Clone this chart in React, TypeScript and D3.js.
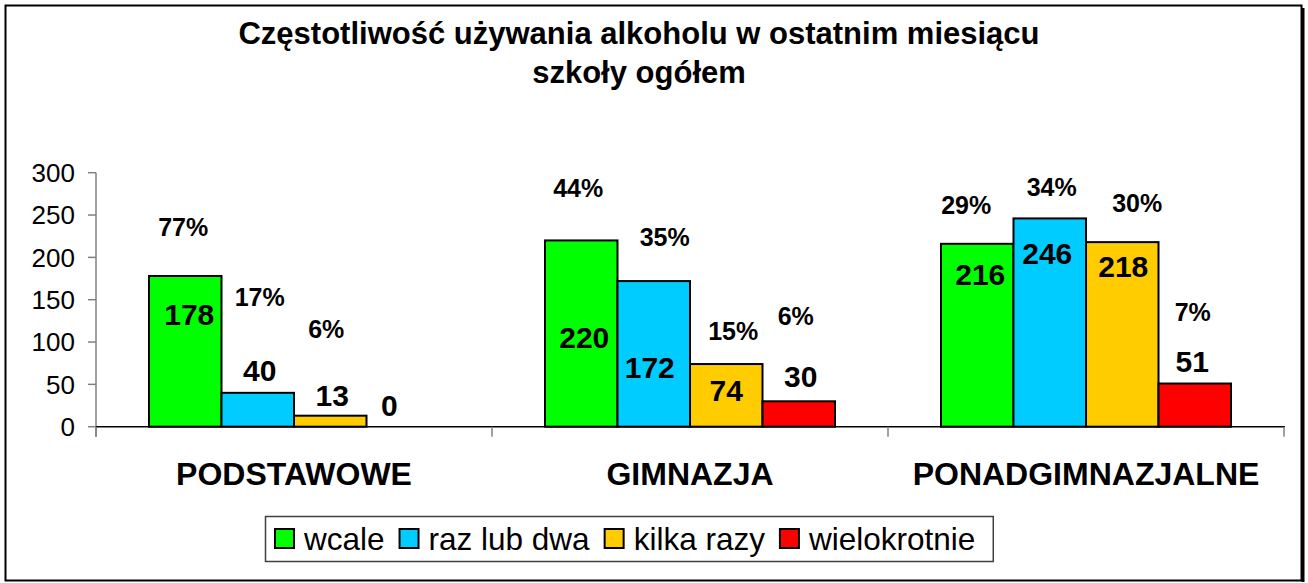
import { useEffect, useRef } from 'react';
import * as d3 from 'd3';

// dane
const categories = ['PODSTAWOWE', 'GIMNAZJA', 'PONADGIMNAZJALNE'];
const seriesNames = ['wcale', 'raz lub dwa', 'kilka razy', 'wielokrotnie'];
const seriesColors = ['#00ff00', '#00ccff', '#ffcc00', '#ff0000'];

const wcale = [178, 220, 216];
const razLubDwa = [40, 172, 246];
const kilkaRazy = [13, 74, 218];
const wielokrotnie = [0, 30, 51];

const pctWcale = [77, 44, 29];
const pctRazLubDwa = [17, 35, 34];
const pctKilkaRazy = [6, 15, 30];
const pctWielokrotnie = [null, 6, 7];

const yTicks = [0, 50, 100, 150, 200, 250, 300];

const titleLines = ['Częstotliwość używania alkoholu w ostatnim miesiącu', 'szkoły ogółem'];

// ręczne przesunięcia etykiet (jak w oryginale z Excela), px względem środka/góry słupka
const valueDx = [[4, 3, 3], [2, -4, -2.5], [2, 0, 1], [-13.5, 2, -2.5]];
const valueDy = [[38, 97, 30], [-23, 86, 35], [-20, 26, 24], [-22, -25, -22]];
const pctDx = [[-2, -3, -11], [2, 11, 2], [-4, 7, 15], [0, -3, -2]];
const pctDy = [[-49, -52, -39], [-96, -44, -31], [-87, -33, -39], [0, -85, -72]];

const FONT = '"Liberation Sans", Arial, sans-serif';

export default function App() {
  const svgRef = useRef<SVGSVGElement>(null);

  useEffect(() => {
    if (!svgRef.current) return;
    const svg = d3.select(svgRef.current);
    svg.selectAll('*').remove();

    const width = 1308;
    const height = 583;
    svg.attr('width', width).attr('height', height);

    const values = [wcale, razLubDwa, kilkaRazy, wielokrotnie];
    const pcts = [pctWcale, pctRazLubDwa, pctKilkaRazy, pctWielokrotnie];

    // ramka wykresu
    svg.append('rect')
      .attr('x', 0).attr('y', 0).attr('width', width).attr('height', height)
      .attr('fill', '#fff');
    svg.append('rect')
      .attr('x', 5.5).attr('y', 5.5).attr('width', 1296).attr('height', 575)
      .attr('fill', 'none').attr('stroke', '#000').attr('stroke-width', 2);
    svg.append('line')
      .attr('x1', 1303).attr('y1', 8).attr('x2', 1303).attr('y2', 582)
      .attr('stroke', '#000').attr('stroke-width', 3);

    // tytuł
    svg.append('g').selectAll('text')
      .data(titleLines)
      .join('text')
      .attr('x', 639)
      .attr('y', (_d, i) => 44 + i * 39)
      .attr('text-anchor', 'middle')
      .attr('font-family', FONT)
      .attr('font-weight', 'bold')
      .attr('font-size', 31)
      .text(d => d);

    // skale
    const x0 = d3.scaleBand().domain(categories).range([96, 1284]).padding(0);
    const x1 = d3.scaleBand().domain(seriesNames).range([0, x0.bandwidth()])
      .paddingInner(0).paddingOuter(0.731);
    const y = d3.scaleLinear().domain([0, 300]).range([426.7, 172.7]);

    // oś Y
    const yAxis = svg.append('g');
    yAxis.append('line')
      .attr('x1', 96).attr('x2', 96).attr('y1', y(300)).attr('y2', y(0) + 10)
      .attr('stroke', '#808080').attr('stroke-width', 1.5);
    yAxis.selectAll('line.tick')
      .data(yTicks)
      .join('line')
      .attr('class', 'tick')
      .attr('x1', 88).attr('x2', 96)
      .attr('y1', d => y(d)).attr('y2', d => y(d))
      .attr('stroke', '#808080').attr('stroke-width', 1.5);
    yAxis.selectAll('text')
      .data(yTicks)
      .join('text')
      .attr('x', 75)
      .attr('y', d => y(d))
      .attr('dy', '0.36em')
      .attr('text-anchor', 'end')
      .attr('font-family', FONT)
      .attr('font-size', 26)
      .text(d => d);

    // słupki
    seriesNames.forEach((name, s) => {
      svg.append('g').selectAll('rect')
        .data(values[s])
        .join('rect')
        .attr('x', (_d, c) => x0(categories[c])! + x1(name)!)
        .attr('y', d => y(d))
        .attr('width', x1.bandwidth())
        .attr('height', d => y(0) - y(d))
        .attr('fill', seriesColors[s])
        .attr('stroke', '#000')
        .attr('stroke-width', 2);
    });

    // oś X
    svg.append('line')
      .attr('x1', 96).attr('x2', 1285).attr('y1', y(0)).attr('y2', y(0))
      .attr('stroke', '#000').attr('stroke-width', 1.5);
    const boundaries = [...categories.map(c => x0(c)!), 1284];
    svg.append('g').selectAll('line')
      .data(boundaries)
      .join('line')
      .attr('x1', d => d).attr('x2', d => d)
      .attr('y1', y(0)).attr('y2', y(0) + 10)
      .attr('stroke', '#808080').attr('stroke-width', 1.5);
    svg.append('g').selectAll('text')
      .data(categories)
      .join('text')
      .attr('x', d => x0(d)! + x0.bandwidth() / 2)
      .attr('y', 485)
      .attr('text-anchor', 'middle')
      .attr('font-family', FONT)
      .attr('font-weight', 'bold')
      .attr('font-size', 32)
      .text(d => d);

    // etykiety wartości i procentów
    seriesNames.forEach((name, s) => {
      const g = svg.append('g');
      values[s].forEach((v, c) => {
        const cx = x0(categories[c])! + x1(name)! + x1.bandwidth() / 2;
        g.append('text')
          .attr('x', cx + valueDx[s][c])
          .attr('y', y(v) + valueDy[s][c])
          .attr('dy', '0.36em')
          .attr('text-anchor', 'middle')
          .attr('font-family', FONT)
          .attr('font-weight', 'bold')
          .attr('font-size', 30)
          .text(v);
        const p = pcts[s][c];
        if (p != null) {
          g.append('text')
            .attr('x', cx + pctDx[s][c])
            .attr('y', y(v) + pctDy[s][c])
            .attr('dy', '0.36em')
            .attr('text-anchor', 'middle')
            .attr('font-family', FONT)
            .attr('font-weight', 'bold')
            .attr('font-size', 25)
            .text(`${p}%`);
        }
      });
    });

    // legenda
    const legend = svg.append('g');
    const box = legend.append('rect')
      .attr('x', 265.5).attr('y', 516.5).attr('height', 45)
      .attr('fill', '#fff').attr('stroke', '#404040').attr('stroke-width', 1.5);
    let lx = 274;
    seriesNames.forEach((name, s) => {
      legend.append('rect')
        .attr('x', lx + 1).attr('y', 529).attr('width', 19).attr('height', 19)
        .attr('fill', seriesColors[s]).attr('stroke', '#000').attr('stroke-width', 2);
      const t = legend.append('text')
        .attr('x', lx + 30)
        .attr('y', 550)
        .attr('font-family', FONT)
        .attr('font-size', 31.5)
        .text(name);
      const tw = (t.node() as SVGTextElement).getComputedTextLength();
      lx += 30 + tw + 14;
    });
    box.attr('width', lx - 14 + 18 - 265.5);
  }, []);

  return (
    <svg ref={svgRef} style={{ position: 'absolute', left: 0, top: 0 }}></svg>
  );
}
